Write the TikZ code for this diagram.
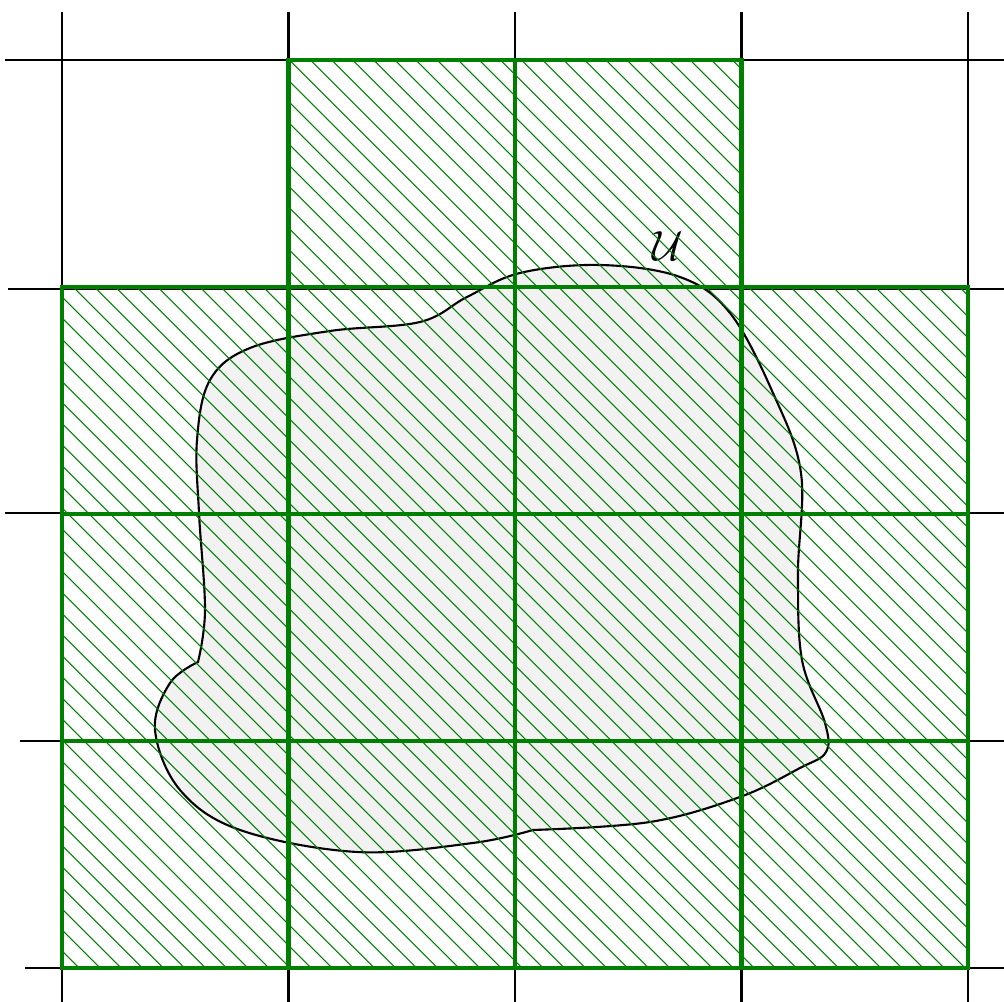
\documentclass[tikz,border=0pt]{standalone}
\usepackage{xcolor}

\begin{document}
\begin{tikzpicture}[
    gridline/.style={
        draw=black,
        semithick
    },
    cellbox/.style={
        draw=green!50!black,
        line width=1.25pt
    },
    hatch/.style={
        draw=green!50!black,
        line width=0.3pt
    },
    blob/.style={
        draw=black,
        semithick,
        fill=black!5
    }
]
\useasboundingbox (0,0) rectangle (10.04,10.02);

% =========================================================
% Background grid
% =========================================================
\foreach \x in {0.62, 2.885, 5.15, 7.415, 9.68}
    \draw[gridline] (\x,9.90) -- (\x,0);
\foreach \y/\xs in {9.42/0.05, 7.13/0.08, 4.89/0.05, 2.61/0.20, 0.34/0.25}
    \draw[gridline] (\xs,\y) -- (10.04,\y);

% =========================================================
% The set U
% =========================================================
\path[blob]
    plot[smooth, tension=0.6] coordinates {
        (1.98,3.40) (2.05,3.92) (1.99,4.89) (1.97,5.62) (2.10,6.22)
        (2.50,6.54) (3.30,6.71) (4.20,6.80) (4.67,7.05) (5.20,7.29)
        (6.00,7.37) (6.80,7.25) (7.30,6.89) (7.73,6.09) (8.01,5.29)
        (7.98,4.29) (8.02,3.42) (8.25,2.79) (8.26,2.50) (8.00,2.34)
        (7.40,2.05) (6.50,1.80) (5.33,1.72)}
    -- plot[smooth, tension=0.6] coordinates {
        (5.33,1.72) (4.73,1.59) (3.57,1.50) (2.40,1.72) (1.80,2.12)
        (1.55,2.72) (1.70,3.19) (1.98,3.40)}
    -- cycle;

\node (ulabel) at (6.68,7.56) {\large $\mathcal{U}$};

% =========================================================
% Covering cells: hatching, then borders
% =========================================================
\begin{scope}
    \clip (0.62,0.34) rectangle (9.68,7.13)
          (2.885,7.13) rectangle (7.415,9.42);
    \foreach \k in {-12,...,76}
        \draw[hatch] ({3.24+\k*0.211-10},10) -- ({3.24+\k*0.211},0);
\end{scope}

\begin{scope}[shift={(0.62,0.34)}, x=2.265cm, y=2.27cm]
    \foreach \i/\j in {1/3, 2/3,
                       0/2, 1/2, 2/2, 3/2,
                       0/1, 1/1, 2/1, 3/1,
                       0/0, 1/0, 2/0, 3/0}
        \draw[cellbox] (\i,\j) rectangle ++(1,1);
\end{scope}

\end{tikzpicture}
\end{document}
